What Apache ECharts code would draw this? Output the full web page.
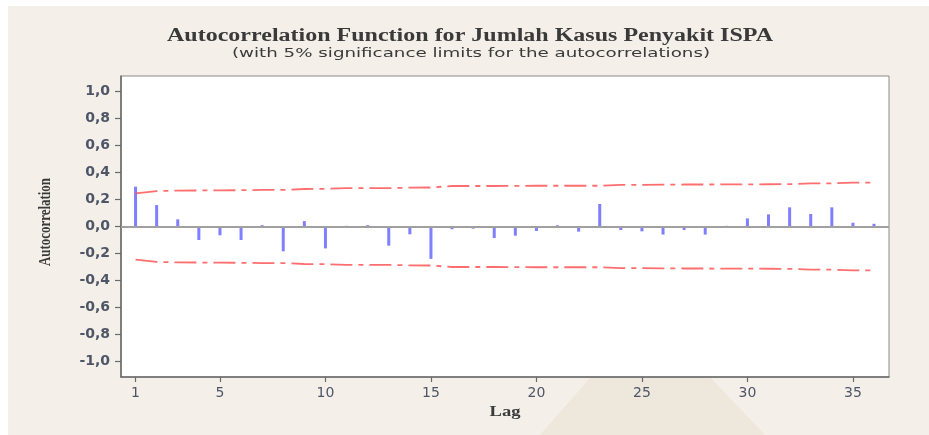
<!DOCTYPE html>
<html>
<head>
<meta charset="utf-8">
<script src="https://cdn.jsdelivr.net/npm/echarts@6/dist/echarts.min.js"></script>
<style>
  html, body { margin: 0; padding: 0; background: #ffffff; }
  #chart { width: 929px; height: 435px; }
</style>
</head>
<body>
<div id="chart"></div>
<script>
// Lags 1..36
const lags = [1,2,3,4,5,6,7,8,9,10,11,12,13,14,15,16,17,18,19,20,21,22,23,24,25,26,27,28,29,30,31,32,33,34,35,36];

// Sample autocorrelation at each lag
const acf = [0.295,0.159,0.053,-0.100,-0.065,-0.100,0.010,-0.184,0.040,-0.162,
             0.005,0.010,-0.142,-0.058,-0.240,-0.020,-0.016,-0.085,-0.068,-0.033,
             0.009,-0.038,0.167,-0.026,-0.036,-0.060,-0.026,-0.060,0.005,0.060,
             0.090,0.142,0.093,0.142,0.028,0.020];

// 5% significance limit (±) at each lag
const limit = [0.245,0.262,0.266,0.267,0.268,0.269,0.271,0.271,0.278,0.279,
               0.284,0.284,0.284,0.288,0.289,0.300,0.300,0.300,0.301,0.302,
               0.302,0.302,0.302,0.309,0.309,0.310,0.311,0.311,0.312,0.312,
               0.313,0.314,0.319,0.320,0.325,0.325];

const xTicks = [1,5,10,15,20,25,30,35];
const yTicks = [-1.0,-0.8,-0.6,-0.4,-0.2,0.0,0.2,0.4,0.6,0.8,1.0];

const titleText = 'Autocorrelation Function for Jumlah Kasus Penyakit ISPA';
const subtitleText = '(with 5% significance limits for the autocorrelations)';
const yName = 'Autocorrelation';
const xName = 'Lag';

const fmtComma = v => v.toFixed(1).replace('.', ',');

const acfData = lags.map((l, i) => [l, acf[i]]);
const upperData = lags.map((l, i) => [l, limit[i]]);
const lowerData = lags.map((l, i) => [l, -limit[i]]);

// Horizontal stretch so a text run spans the wanted width
const measureCtx = document.createElement('canvas').getContext('2d');
function stretchFor(text, font, width) {
  measureCtx.font = font;
  return width / measureCtx.measureText(text).width;
}

const titleFont = 'bold 18px "Liberation Serif", "DejaVu Serif", serif';
const subFont = '13px "DejaVu Sans", sans-serif';
const yNameFont = 'bold 12px "Liberation Serif", serif';
const xNameFont = 'bold 13px "Liberation Serif", serif';

const chart = echarts.init(document.getElementById('chart'), null, { renderer: 'canvas' });

const limitStyle = {
  color: 'rgba(255,85,85,0.85)',
  width: 1.8,
  type: [22, 6, 5, 6]
};

const labelColor = '#4e5566';

function textEl(text, font, x, y, sx, sy, rot) {
  return {
    type: 'text', x: x, y: y, rotation: rot || 0,
    scaleX: sx, scaleY: sy || 1, silent: true, z: 10,
    style: {
      text: text, x: 0, y: 0, font: font, fill: '#3a3a3a',
      align: 'center', verticalAlign: 'middle',
      textAlign: 'center', textVerticalAlign: 'middle'
    }
  };
}

chart.setOption({
  backgroundColor: '#ffffff',
  animation: false,
  graphic: [
    {
      type: 'rect', z: -10, silent: true,
      shape: { x: 8, y: 6, width: 921, height: 429 },
      style: { fill: '#f4f0e9' }
    },
    {
      type: 'polygon', z: -9, silent: true,
      shape: { points: [[540, 435], [648, 312], [765, 435]] },
      style: { fill: '#ede7dc' }
    },
    textEl(titleText, titleFont, 470, 36.5, stretchFor(titleText, titleFont, 606)),
    textEl(subtitleText, subFont, 471, 53.5, stretchFor(subtitleText, subFont, 478)),
    textEl(yName, yNameFont, 46, 222, stretchFor(yName, yNameFont, 88), 1.4, Math.PI / 2),
    textEl(xName, xNameFont, 505, 412, stretchFor(xName, xNameFont, 31), 1.1)
  ],
  grid: {
    left: 121, right: 40, top: 76, bottom: 58,
    show: true,
    backgroundColor: '#ffffff',
    borderColor: '#8a8a8a',
    borderWidth: 1
  },
  xAxis: {
    type: 'value',
    min: 0.31, max: 36.71,
    axisLine: { onZero: false, lineStyle: { color: '#6a6a6a', width: 1.5 } },
    axisTick: { customValues: xTicks, length: 5, lineStyle: { color: '#6a6a6a', width: 1.2 } },
    axisLabel: {
      customValues: xTicks, margin: 9,
      color: labelColor, fontSize: 14,
      fontFamily: '"DejaVu Sans", sans-serif'
    },
    splitLine: { show: false }
  },
  yAxis: {
    type: 'value',
    min: -1.115, max: 1.115,
    axisLine: { show: true, lineStyle: { color: '#6a6a6a', width: 1.5 } },
    axisTick: { customValues: yTicks, length: 6, lineStyle: { color: '#6a6a6a', width: 1.2 } },
    axisLabel: {
      customValues: yTicks, margin: 11,
      color: labelColor, fontSize: 14, fontWeight: 'bold',
      fontFamily: '"DejaVu Sans", sans-serif',
      formatter: v => fmtComma(v)
    },
    splitLine: { show: false }
  },
  series: [
    {
      type: 'bar',
      data: acfData,
      barWidth: 3,
      itemStyle: { color: 'rgba(95,95,255,0.8)' },
      markLine: {
        silent: true, symbol: 'none', label: { show: false },
        lineStyle: { color: '#a0a0a0', width: 2, type: 'solid' },
        data: [{ yAxis: 0 }]
      },
      z: 3
    },
    {
      type: 'line', data: upperData, symbol: 'none',
      lineStyle: limitStyle, z: 4
    },
    {
      type: 'line', data: lowerData, symbol: 'none',
      lineStyle: limitStyle, z: 4
    }
  ]
});
</script>
</body>
</html>
